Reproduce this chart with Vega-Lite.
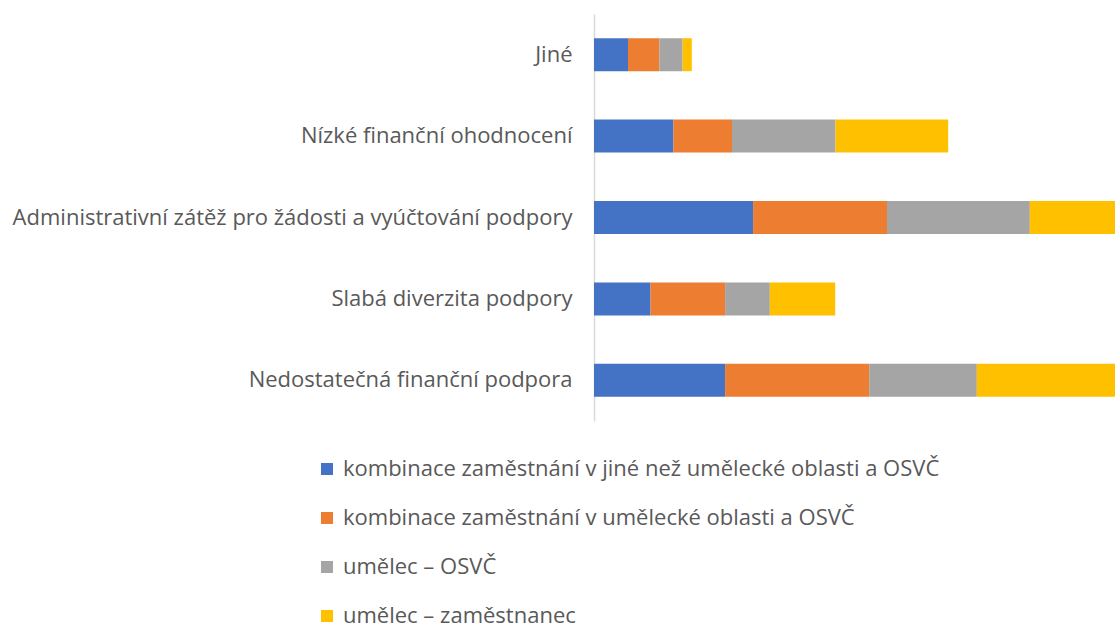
{
  "$schema": "https://vega.github.io/schema/vega-lite/v6.json",
  "autosize": {"type": "none"},
  "width": 521,
  "height": 407,
  "padding": {"left": 594, "top": 14, "right": 0, "bottom": 205},
  "background": "white",
  "config": {"view": {"stroke": null}, "font": "Open Sans"},
  "data": {"values": [
    {"kategorie": "Jiné", "skupina": "kombinace zaměstnání v jiné než umělecké oblasti a OSVČ", "hodnota": 34.0},
    {"kategorie": "Jiné", "skupina": "kombinace zaměstnání v umělecké oblasti a OSVČ", "hodnota": 31.4},
    {"kategorie": "Jiné", "skupina": "umělec – OSVČ", "hodnota": 23.2},
    {"kategorie": "Jiné", "skupina": "umělec – zaměstnanec", "hodnota": 9.2},
    {"kategorie": "Nízké finanční ohodnocení", "skupina": "kombinace zaměstnání v jiné než umělecké oblasti a OSVČ", "hodnota": 79.4},
    {"kategorie": "Nízké finanční ohodnocení", "skupina": "kombinace zaměstnání v umělecké oblasti a OSVČ", "hodnota": 58.6},
    {"kategorie": "Nízké finanční ohodnocení", "skupina": "umělec – OSVČ", "hodnota": 103.5},
    {"kategorie": "Nízké finanční ohodnocení", "skupina": "umělec – zaměstnanec", "hodnota": 112.7},
    {"kategorie": "Administrativní zátěž pro žádosti a vyúčtování podpory", "skupina": "kombinace zaměstnání v jiné než umělecké oblasti a OSVČ", "hodnota": 159.1},
    {"kategorie": "Administrativní zátěž pro žádosti a vyúčtování podpory", "skupina": "kombinace zaměstnání v umělecké oblasti a OSVČ", "hodnota": 133.9},
    {"kategorie": "Administrativní zátěž pro žádosti a vyúčtování podpory", "skupina": "umělec – OSVČ", "hodnota": 142.8},
    {"kategorie": "Administrativní zátěž pro žádosti a vyúčtování podpory", "skupina": "umělec – zaměstnanec", "hodnota": 150},
    {"kategorie": "Slabá diverzita podpory", "skupina": "kombinace zaměstnání v jiné než umělecké oblasti a OSVČ", "hodnota": 56.5},
    {"kategorie": "Slabá diverzita podpory", "skupina": "kombinace zaměstnání v umělecké oblasti a OSVČ", "hodnota": 74.6},
    {"kategorie": "Slabá diverzita podpory", "skupina": "umělec – OSVČ", "hodnota": 44.7},
    {"kategorie": "Slabá diverzita podpory", "skupina": "umělec – zaměstnanec", "hodnota": 65.4},
    {"kategorie": "Nedostatečná finanční podpora", "skupina": "kombinace zaměstnání v jiné než umělecké oblasti a OSVČ", "hodnota": 131.1},
    {"kategorie": "Nedostatečná finanční podpora", "skupina": "kombinace zaměstnání v umělecké oblasti a OSVČ", "hodnota": 144.1},
    {"kategorie": "Nedostatečná finanční podpora", "skupina": "umělec – OSVČ", "hodnota": 107.6},
    {"kategorie": "Nedostatečná finanční podpora", "skupina": "umělec – zaměstnanec", "hodnota": 160}
  ]},
  "mark": {"type": "bar", "clip": true},
  "encoding": {
    "y": {
      "field": "kategorie", "type": "nominal", "sort": null,
      "scale": {"paddingInner": 0.595, "paddingOuter": 0.2975},
      "axis": {"title": null, "ticks": false, "labelPadding": 22, "labelFontSize": 22, "labelColor": "#595959", "labelLimit": 700, "domainColor": "#d9d9d9", "domainWidth": 1.5}
    },
    "x": {
      "field": "hodnota", "type": "quantitative", "stack": "zero",
      "scale": {"domain": [0, 521], "nice": false},
      "axis": null
    },
    "color": {
      "field": "skupina", "type": "nominal",
      "scale": {
        "domain": ["kombinace zaměstnání v jiné než umělecké oblasti a OSVČ", "kombinace zaměstnání v umělecké oblasti a OSVČ", "umělec – OSVČ", "umělec – zaměstnanec"],
        "range": ["#4472C4", "#ED7D31", "#A5A5A5", "#FFC000"]
      },
      "legend": {
        "title": null, "orient": "none", "legendX": -278, "legendY": 444,
        "direction": "vertical",
        "symbolType": "square", "symbolSize": 144, "symbolStrokeWidth": 0,
        "labelFontSize": 22, "labelColor": "#595959", "labelLimit": 800,
        "labelOffset": 5, "rowPadding": 27, "padding": 0
      }
    },
    "order": {"field": "skupina", "sort": "ascending"}
  }
}
